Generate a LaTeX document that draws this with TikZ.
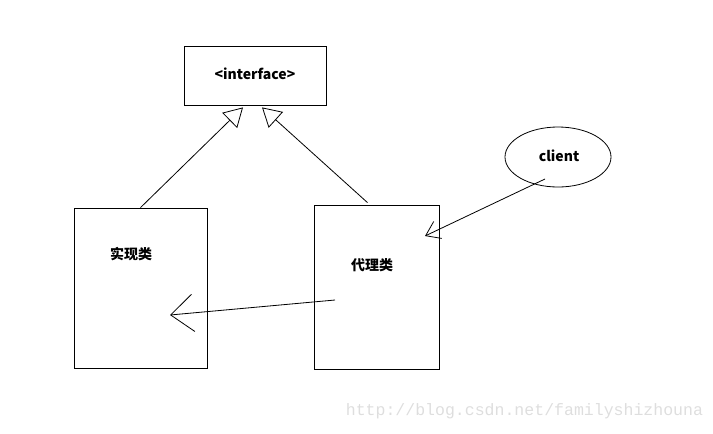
\documentclass[tikz,border=0pt]{standalone}
\usepackage{fontspec}
\setmainfont{Noto Sans CJK SC}
\newfontfamily\urlfont{Liberation Mono}
\usetikzlibrary{arrows.meta,calc,shapes.geometric}

\begin{document}
\begin{tikzpicture}[line width=.6pt,x=0.75pt,y=-0.75pt,
		box/.style={draw,minimum width=#1,inner sep=0pt},
		lbl/.style={font=\bfseries\fontsize{10.5}{12}\selectfont},
		inherit/.style={-{Triangle[open,length=14pt,width=16pt]}},
		uses/.style={-{Straight Barb[length=#1]}}]
	\useasboundingbox (0,0) rectangle (713,433);

	% Draw boxes
	\node[box=106.5pt,minimum height=44.25pt] (iface) at (255,75.5) {};
	\node[box=99.75pt,minimum height=120pt] (impl) at (140.5,288) {};
	\node[box=93.75pt,minimum height=123pt] (proxy) at (376.5,287) {};
	\node[draw,ellipse,minimum width=79.5pt,minimum height=45pt,inner sep=0pt] (client) at (558,157) {};

	% Draw labels
	\foreach \n/\p/\t in {ifacetext/{(255,74)}/{<interface>}, impltext/{(131,254)}/实现类,
			proxytext/{(372,265)}/代理类, clienttext/{(559,156)}/client}{
		\node[lbl] (\n) at \p {\t};
	}

	% Draw connectors
	\coordinate (ifaceL) at ($(iface.south)+(-12,2)$);
	\coordinate (ifaceR) at ($(iface.south)+(7,2)$);
	\coordinate (proxyin) at (335,300);
	\coordinate (implin) at (170,315);
	\coordinate (clientout) at (545,179);
	\coordinate (proxyside) at (425,236);
	\draw[inherit] (impl.north) -- (ifaceL);
	\draw[inherit] ($(proxy.north)+(-9,-2)$) -- (ifaceR);
	\draw[uses={10pt,width=14pt}] (clientout) -- (proxyside);
	\draw[uses={17pt,width=28pt}] (proxyin) -- (implin);

	% Watermark
	\node[anchor=west,text=black!13,font=\urlfont\fontsize{12.4}{14}\selectfont] (mark) at (341,411) {http://blog.csdn.net/familyshizhouna};
\end{tikzpicture}
\end{document}
